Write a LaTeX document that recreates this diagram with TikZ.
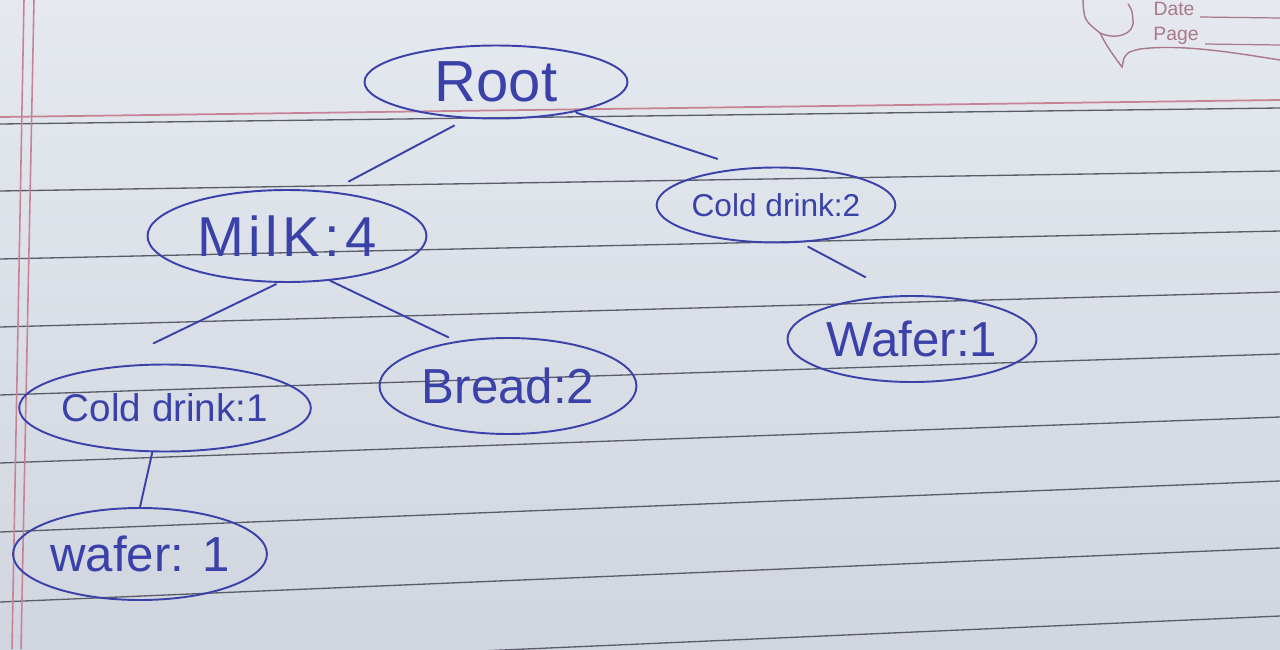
\documentclass[tikz,border=0pt]{standalone}
\usepackage{fontspec}
\setmainfont{Liberation Sans}
\usetikzlibrary{shapes.geometric}
\definecolor{ink}{RGB}{58,66,170}
\definecolor{paperA}{RGB}{229,233,239}
\definecolor{paperB}{RGB}{208,213,223}
\definecolor{rule}{RGB}{90,93,105}
\definecolor{margin}{RGB}{200,130,150}
\definecolor{logo}{RGB}{170,120,135}
\begin{document}
\begin{tikzpicture}[x=0.02cm,y=-0.02cm,
  tnode/.style={ellipse, draw=ink, line width=1.1pt, text=ink, inner sep=0pt},
  edge/.style={draw=ink, line width=1.1pt, line cap=round},
  ruleline/.style={draw=rule, line width=0.75pt},
  fs/.style={font=\fontsize{#1}{#1}\selectfont}]
\shade[top color=paperA,bottom color=paperB] (0,0) rectangle (1280,649);
\useasboundingbox (0,0) rectangle (1280,649);
% ruled lines
\foreach \a/\b in {191/171,259/231,327/292,395/354,463/417,532/481,602/548,672/616}
  \draw[ruleline] (0,\a) -- (1280,\b);
\draw[draw=margin, line width=1pt] (0,117) -- (1280,100);
\draw[ruleline] (0,124) -- (1280,108);
\draw[draw=margin, line width=0.9pt] (24,0) -- (12,649);
\draw[draw=margin, line width=0.9pt] (34,0) -- (21,649);
% Date / Page header
\node[text=logo, fs=11] (date) at (1174,9) {Date};
\node[text=logo, fs=11] (page) at (1176,36) {Page};
\draw[logo, line width=0.7pt] (1200,17) -- (1280,18);
\draw[logo, line width=0.7pt] (1205,44) -- (1280,45);
\draw[logo, line width=0.8pt] (1083,0) .. controls (1084,20) .. (1100,33)
  .. controls (1115,40) and (1135,35) .. (1133,20) .. controls (1132,10) .. (1128,4);
\draw[logo, line width=0.8pt] (1100,33) .. controls (1108,48) .. (1122,67)
  -- (1124,58) .. controls (1128,52) .. (1140,49)
  .. controls (1180,44) and (1230,52) .. (1280,60);
% tree nodes
\node[tnode, minimum width=5.26cm, minimum height=1.46cm, fs=33] (root) at (496,82) {Root};
\node[tnode, minimum width=5.58cm, minimum height=1.84cm, fs=32] (milk) at (287,236) {\addfontfeature{LetterSpace=8}MilK:4};
\node[tnode, minimum width=3.98cm, minimum height=1.50cm, fs=18] (cd2) at (776,205) {Cold drink:2};
\node[tnode, minimum width=4.98cm, minimum height=1.72cm, fs=28] (wr) at (912,339) {Wafer:1};
\node[tnode, minimum width=5.30cm, minimum height=1.74cm, fs=22] (cd1) at (165,408) {Cold drink:1};
\node[tnode, minimum width=5.14cm, minimum height=1.92cm, fs=28] (bread) at (508,386) {Bread:2};
\node[tnode, minimum width=4.88cm, minimum height=1.84cm, fs=28] (wbl) at (140,554) {wafer: 1};
% connectors
\draw[edge, shorten <=8.5pt, shorten >=12pt] (root.232) -- (milk.46);
\draw[edge, shorten <=1pt, shorten >=16.5pt] (root.339) -- (cd2.130);
\draw[edge, shorten <=1.7pt, shorten >=32pt] (milk.260) -- (cd1.147);
\draw[edge, shorten >=5pt] (milk.314) -- (bread.139);
\draw[edge, shorten <=5pt, shorten >=22pt] (cd2.303) -- (wr.106);
\draw[edge] (cd1.254) -- (wbl.90);
\end{tikzpicture}
\end{document}
